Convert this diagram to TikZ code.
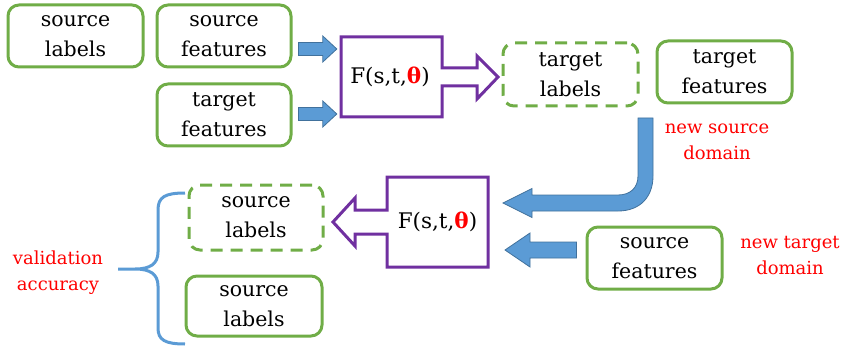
\documentclass[tikz,border=0pt]{standalone}
\usepackage{fontspec}
\setmainfont{DejaVu Serif}
\usetikzlibrary{calc}
\definecolor{boxgreen}{HTML}{70AD47}
\definecolor{boxpurple}{HTML}{7030A0}
\definecolor{arrblue}{HTML}{5B9BD5}
\definecolor{arrblueline}{HTML}{41719C}
\definecolor{txtred}{HTML}{FF0000}
\begin{document}
\begin{tikzpicture}[x=1pt,y=-1pt,
  greenbox/.style={draw=boxgreen, line width=3pt, rounded corners=11pt, align=center,
    font=\fontsize{20.5}{30}\selectfont, inner sep=0pt},
  dashbox/.style={greenbox, dash pattern=on 12pt off 8pt},
  purplebox/.style={draw=boxpurple, line width=3pt, line join=miter, fill=white},
  blockarrow/.style={fill=arrblue, draw=arrblueline, line width=0.8pt, line join=miter},
  redlabel/.style={text=txtred, align=center, font=\fontsize{18}{26}\selectfont},
  ftext/.style={font=\fontsize{21.5}{30}\selectfont, inner sep=0pt, minimum width=101pt, minimum height=80pt}
]
\useasboundingbox (0,0) rectangle (843,350);

% green boxes
\node[greenbox, minimum width=135pt, minimum height=62pt] (sl1) at (75.5,36) {source\\labels};
\node[greenbox, minimum width=134pt, minimum height=62pt] (sf1) at (224,36) {source\\features};
\node[greenbox, minimum width=134pt, minimum height=62pt] (tf1) at (224,115) {target\\features};
\node[dashbox, minimum width=135pt, minimum height=63pt] (tl) at (570.5,74.5) {target\\labels};
\node[greenbox, minimum width=135pt, minimum height=62pt] (tf2) at (724.5,72) {target\\features};
\node[dashbox, minimum width=134pt, minimum height=65pt] (sl2) at (256,217.5) {source\\labels};
\node[greenbox, minimum width=136pt, minimum height=60pt] (sl3) at (254,306) {source\\labels};
\node[greenbox, minimum width=135pt, minimum height=62pt] (sf2) at (654.5,258) {source\\features};

% top function box with arrow outline
\draw[purplebox] (341,37) -- (442,37) -- (442,68) -- (477,68) -- (477,56) -- (498,77)
  -- (477,99) -- (477,86) -- (442,86) -- (442,117) -- (341,117) -- cycle;
\node[ftext] (F1) at (390,77) {F(s,t,\textcolor{txtred}{\textbf{θ}})};

% bottom function box with arrow outline
\draw[purplebox] (488,177) -- (387,177) -- (387,210) -- (355,210) -- (355,198) -- (333,222)
  -- (355,246) -- (355,234) -- (387,234) -- (387,267) -- (488,267) -- cycle;
\node[ftext] (F2) at (437.5,222) {F(s,t,\textcolor{txtred}{\textbf{θ}})};

% small blue arrows (top)
\coordinate (a1) at ($(sf1.east)+(6,13)$);
\coordinate (a1t) at ($(F1.west |- a1)+(1.5,0)$);
\draw[blockarrow] ($(a1)+(0,-6.5)$) -- ($(a1t)+(-18,-6.5)$) -- ($(a1t)+(-18,-13)$) -- ($(a1t)+(-4,0)$)
  -- ($(a1t)+(-18,13)$) -- ($(a1t)+(-18,6.5)$) -- ($(a1)+(0,6.5)$) -- cycle;
\coordinate (a2) at ($(tf1.east)+(6,-1)$);
\coordinate (a2t) at ($(F1.west |- a2)+(1.5,0)$);
\draw[blockarrow] ($(a2)+(0,-6.5)$) -- ($(a2t)+(-18,-6.5)$) -- ($(a2t)+(-18,-13)$) -- ($(a2t)+(-4,0)$)
  -- ($(a2t)+(-18,13)$) -- ($(a2t)+(-18,6.5)$) -- ($(a2)+(0,6.5)$) -- cycle;

% curved blue arrow: new source domain
\draw[blockarrow] (638,118) -- (653,118) -- (653,176) .. controls (653,197) and (640,211) .. (618,211)
  -- (532,211) -- (532,217.5) -- (503,203) -- (532,188.5) -- (532,195) -- (618,195)
  .. controls (630,195) and (638,188) .. (638,176) -- cycle;

% bottom small blue arrow
\coordinate (a3) at ($(sf2.west)+(-9,-8)$);
\draw[blockarrow] ($(a3)+(0,-8)$) -- (530,242) -- (530,233) -- (505,250) -- (530,267) -- (530,258)
  -- ($(a3)+(0,8)$) -- cycle;

% brace
\draw[arrblue, line width=3pt] (185,193) .. controls (165,193) and (158,197) .. (158,210)
  -- (158,252) .. controls (158,264) and (150,269) .. (135,269) -- (118,269)
  (135,269) .. controls (150,269) and (158,274) .. (158,286)
  -- (158,328) .. controls (158,340) and (165,344) .. (185,344);

% red labels
\node[redlabel] (nsd) at (717,142) {new source\\domain};
\node[redlabel] (ntd) at (790,256) {new target\\domain};
\node[redlabel] (va) at (58,273) {validation\\accuracy};
\end{tikzpicture}
\end{document}
